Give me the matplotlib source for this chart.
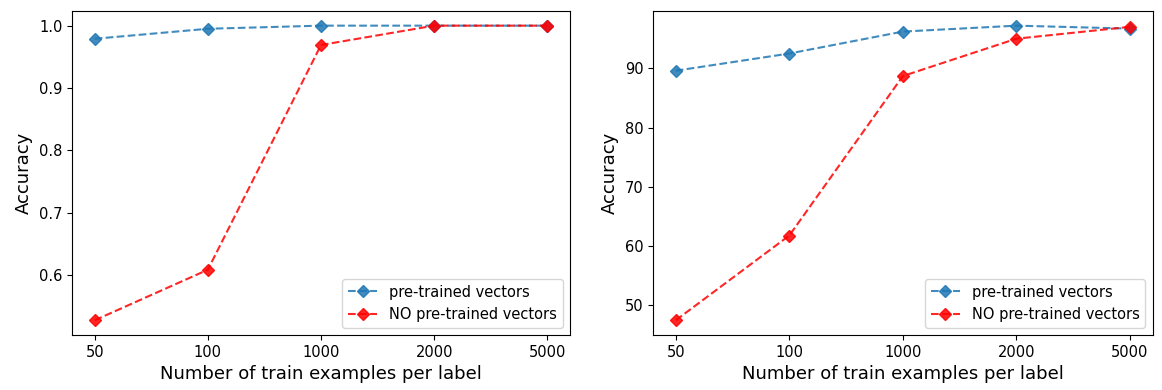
import matplotlib
matplotlib.use('Agg')
import matplotlib.pyplot as plt

# liczba przykladow treningowych na etykiete
labels = ['50', '100', '1000', '2000', '5000']

# lewy wykres (dokladnosc 0-1)
acc_pre_1 = [0.979, 0.995, 1.0, 1.0, 1.0]
acc_no_1 = [0.528, 0.609, 0.969, 1.0, 1.0]

# prawy wykres (dokladnosc w %)
acc_pre_2 = [89.6, 92.5, 96.2, 97.2, 96.7]
acc_no_2 = [47.5, 61.8, 88.7, 95.0, 97.0]

fig = plt.figure(figsize=(11.62, 3.9), dpi=100)
ax1 = fig.add_axes([0.062, 0.141, 0.4285, 0.831])
ax2 = fig.add_axes([0.562, 0.141, 0.430, 0.831])

for ax, pre, no in [(ax1, acc_pre_1, acc_no_1), (ax2, acc_pre_2, acc_no_2)]:
    x = range(len(labels))
    ax.plot(x, pre, '--D', color='#1f77b4', alpha=0.85, markersize=6.5, label='pre-trained vectors')
    ax.plot(x, no, '--D', color='red', alpha=0.85, markersize=6.5, label='NO pre-trained vectors')
    ax.set_xticks(list(x))
    ax.set_xticklabels(labels)
    ax.tick_params(labelsize=10.5)
    ax.set_xlabel('Number of train examples per label', fontsize=13)
    ax.set_ylabel('Accuracy', fontsize=13)
    ax.legend(loc='lower right', fontsize=10.5)

plt.savefig('out.png', dpi=100)
